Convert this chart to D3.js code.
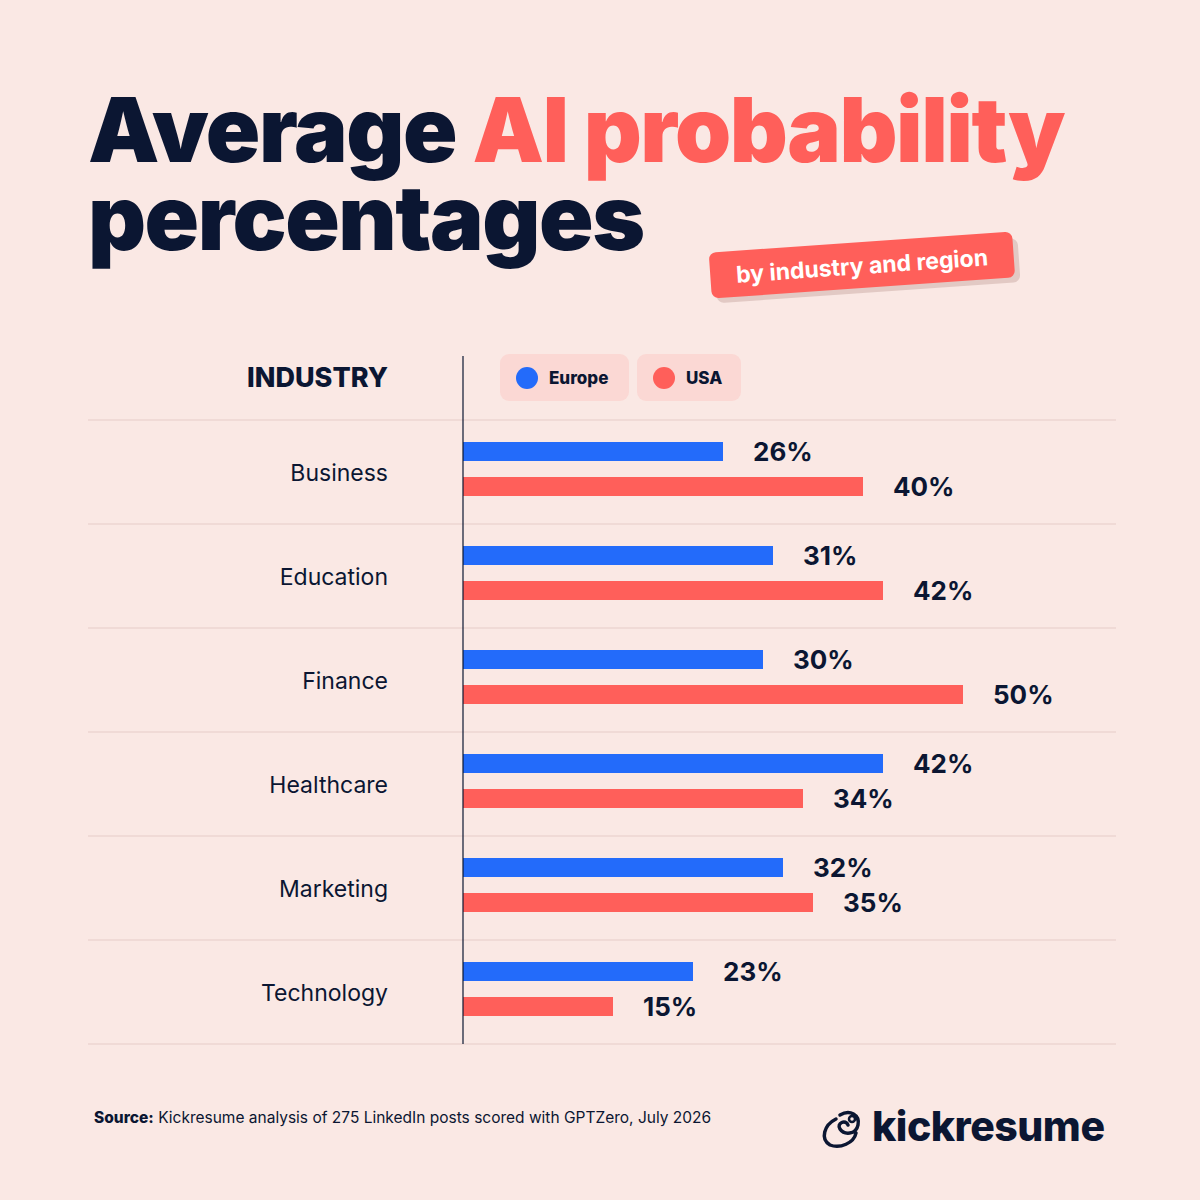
<!DOCTYPE html>
<meta charset="utf-8">
<style>
  body { margin: 0; background: #fae8e4; }
  text { font-family: Inter, "Noto Sans", sans-serif; }
</style>
<body>
<div id="chart"></div>
<script src="https://d3js.org/d3.v7.min.js"></script>
<script>
// data
var industries = ["Business", "Education", "Finance", "Healthcare", "Marketing", "Technology"];
var europe = [26, 31, 30, 42, 32, 23];
var usa = [40, 42, 50, 34, 35, 15];
var seriesNames = ["Europe", "USA"];

var navy = "#0b1632", blue = "#236bfa", coral = "#ff5f5a";

var width = 1200, height = 1200;
var svg = d3.select("#chart").append("svg")
  .attr("width", width).attr("height", height);

svg.append("rect").attr("width", width).attr("height", height).attr("fill", "#fae8e4");

// title
var t1 = svg.append("text").attr("x", 88).attr("y", 162)
  .style("font-size", "90px").style("font-weight", 900).style("letter-spacing", "-1.5px")
  .attr("fill", navy);
t1.append("tspan").text("Average ");
t1.append("tspan").attr("fill", coral).text("AI probability");
svg.append("text").attr("x", 88).attr("y", 250)
  .style("font-size", "90px").style("font-weight", 900).style("letter-spacing", "-1.5px")
  .attr("fill", navy).text("percentages");

// badge
var badge = svg.append("g").attr("transform", "translate(862,266) rotate(-4)");
badge.append("rect").attr("x", -150).attr("y", -22).attr("width", 304).attr("height", 44)
  .attr("rx", 7).attr("fill", "#c9a9a3").attr("opacity", 0.5).attr("transform", "translate(3,5)");
badge.append("rect").attr("x", -152).attr("y", -24).attr("width", 304).attr("height", 46)
  .attr("rx", 7).attr("fill", coral);
badge.append("text").attr("x", 0).attr("y", 8).attr("text-anchor", "middle")
  .style("font-size", "23px").style("font-weight", 700).attr("fill", "white")
  .text("by industry and region");

// chart area
var axisX = 463, chartTop = 420, rowH = 104;
var x = d3.scaleLinear().domain([0, 50]).range([axisX, axisX + 500]);
var y = d3.scaleBand().domain(industries).range([chartTop, chartTop + rowH * industries.length]);

svg.append("text").attr("x", 388).attr("y", 387).attr("text-anchor", "end")
  .style("font-size", "27px").style("font-weight", 800).attr("fill", navy).text("INDUSTRY");

// legend pills
var legend = [{name: seriesNames[0], color: blue, x: 500, w: 129}, {name: seriesNames[1], color: coral, x: 637, w: 104}];
var lg = svg.selectAll(".lg").data(legend).enter().append("g")
  .attr("transform", function(d) { return "translate(" + d.x + ",354)"; });
lg.append("rect").attr("width", function(d) { return d.w; }).attr("height", 47).attr("rx", 9).attr("fill", "#fbd8d4");
lg.append("circle").attr("cx", 27).attr("cy", 24).attr("r", 11).attr("fill", function(d) { return d.color; });
lg.append("text").attr("x", 49).attr("y", 30).style("font-size", "17px").style("font-weight", 800)
  .attr("fill", navy).text(function(d) { return d.name; });

// separators
svg.selectAll(".sep").data(d3.range(industries.length + 1)).enter().append("line")
  .attr("x1", 88).attr("x2", 1116)
  .attr("y1", function(i) { return chartTop + i * rowH; }).attr("y2", function(i) { return chartTop + i * rowH; })
  .attr("stroke", "#ecd6d2").attr("stroke-width", 1.5);

// category labels
svg.selectAll(".cat").data(industries).enter().append("text")
  .attr("x", 388).attr("y", function(d) { return y(d) + rowH / 2 + 9; })
  .attr("text-anchor", "end").style("font-size", "23px").attr("fill", navy)
  .text(function(d) { return d; });

var rows = industries.map(function(d, i) { return {ind: d, eu: europe[i], us: usa[i]}; });
var bars = [];
rows.forEach(function(r) {
  bars.push({ind: r.ind, v: r.eu, color: blue, off: 22});
  bars.push({ind: r.ind, v: r.us, color: coral, off: 57});
});

svg.selectAll(".bar").data(bars).enter().append("rect")
  .attr("x", x(0)).attr("y", function(d) { return y(d.ind) + d.off; })
  .attr("width", function(d) { return x(d.v) - x(0); }).attr("height", 19)
  .attr("fill", function(d) { return d.color; });

svg.selectAll(".val").data(bars).enter().append("text")
  .attr("x", function(d) { return x(d.v) + 30; })
  .attr("y", function(d) { return y(d.ind) + d.off + 19; })
  .style("font-size", "26px").style("font-weight", 700).attr("fill", navy)
  .text(function(d) { return d.v + "%"; });

// axis line
svg.append("line").attr("x1", axisX).attr("x2", axisX).attr("y1", 356).attr("y2", chartTop + rowH * industries.length)
  .attr("stroke", navy).attr("stroke-width", 1.2);

// source
var src = svg.append("text").attr("x", 94).attr("y", 1123).style("font-size", "15.5px").attr("fill", navy);
src.append("tspan").style("font-weight", 800).text("Source:");
src.append("tspan").text(" Kickresume analysis of 275 LinkedIn posts scored with GPTZero, July 2026");

// logo
var logo = svg.append("g").attr("transform", "translate(842,1129)").attr("fill", "none")
  .attr("stroke", navy).attr("stroke-width", 3.5).attr("stroke-linecap", "round");
logo.append("path").attr("d", "M-2,-14 C8,-20 18,-14 16,-4 C14,6 2,6 -2,0 C-6,-6 4,-10 6,-4 M-6,-10 C-18,-4 -22,10 -12,16 C-2,20 12,14 14,4");
logo.append("circle").attr("cx", 10).attr("cy", -10).attr("r", 3).attr("stroke-width", 2.5);
svg.append("text").attr("x", 872).attr("y", 1141).style("font-size", "41px").style("font-weight", 800)
  .style("letter-spacing", "-0.5px").attr("fill", navy).text("kickresume");
</script>
</body>
